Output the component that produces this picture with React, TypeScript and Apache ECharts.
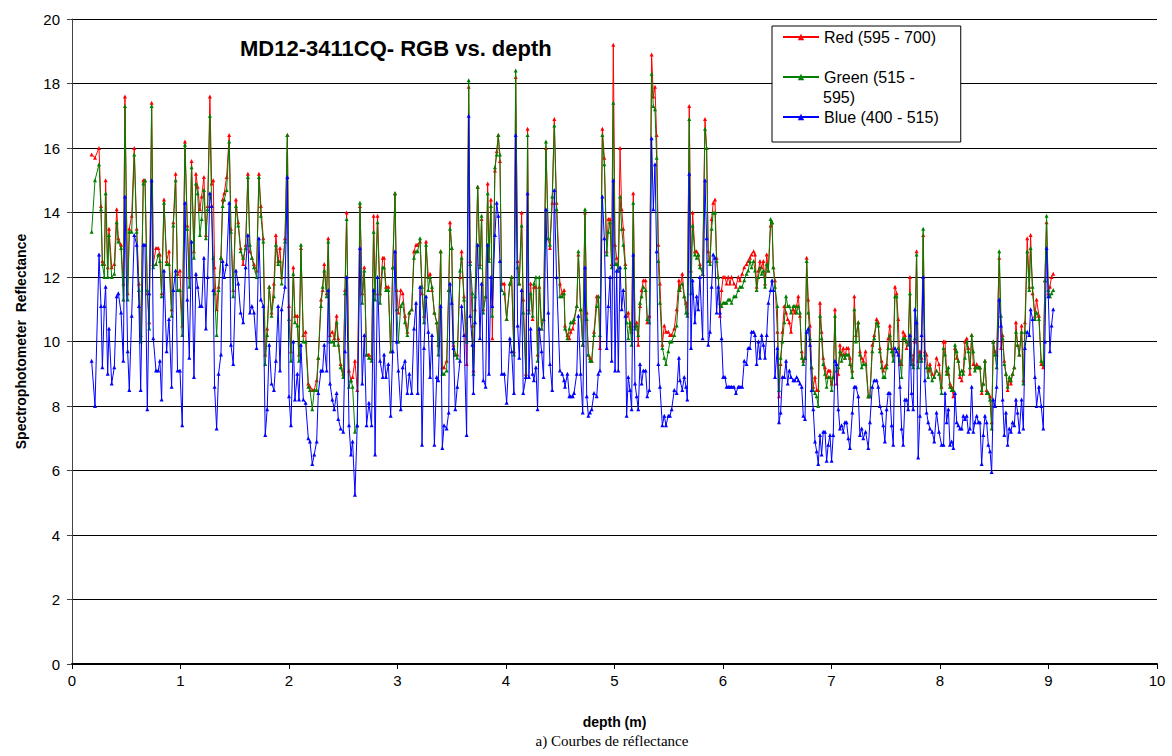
import React, { useEffect, useRef } from "react";
import * as echarts from "echarts";

// depth (m) of every sample
const depth = [
  0.181,0.212,0.249,0.267,0.28,0.298,0.31,0.329,0.341,0.366,0.39,0.412,0.427,0.452,0.473,0.488,0.513,0.528,0.55,0.574,0.596,0.617,0.633,0.657,0.673,0.694,0.712,0.734,0.749,0.774,0.795,0.81,0.826,0.848,0.872,0.894,0.918,0.934,0.955,0.973,0.995,1.016,
  1.041,1.063,1.081,1.102,1.124,1.142,1.158,1.179,1.195,1.216,1.234,1.25,1.271,1.287,1.302,1.314,1.333,1.351,1.373,1.388,1.403,1.425,1.449,1.465,1.486,1.511,1.532,1.554,1.578,1.6,1.621,1.64,1.658,1.677,1.701,1.723,1.741,1.763,1.781,1.799,1.818,1.839,1.861,1.879,1.9,
  1.917,1.932,1.963,1.985,2.0,2.018,2.04,2.055,2.077,2.092,2.11,2.132,2.153,2.178,2.193,2.215,2.233,2.255,2.27,2.295,2.31,2.325,2.347,2.362,2.378,2.399,2.417,2.439,2.454,2.476,2.5,2.516,2.531,2.553,2.571,2.586,2.608,2.629,2.654,2.675,2.694,2.715,2.737,2.761,2.78,
  2.793,2.816,2.839,2.864,2.876,2.894,2.916,2.937,2.956,2.977,2.993,3.008,3.03,3.048,3.069,3.091,3.109,3.131,3.152,3.171,3.186,3.208,3.226,3.244,3.263,3.284,3.3,3.318,3.34,3.361,3.376,3.398,3.413,3.429,3.453,3.472,3.484,3.5,3.515,3.533,3.551,3.576,3.591,3.613,3.637,3.656,
  3.67,3.69,3.70,3.714,3.739,3.76,3.775,3.791,3.812,3.831,3.843,3.861,3.874,3.898,3.914,3.929,3.944,3.96,3.984,4.006,4.036,4.052,4.073,4.089,4.107,4.122,4.144,4.159,4.184,4.199,4.211,4.227,4.245,4.257,4.276,4.291,4.307,4.328,4.346,4.368,4.39,4.405,4.426,4.445,4.466,4.497,4.518,
  4.535,4.544,4.566,4.584,4.596,4.615,4.627,4.652,4.667,4.688,4.707,4.728,4.744,4.759,4.774,4.79,4.811,4.836,4.851,4.866,4.888,4.906,4.928,4.943,4.959,4.974,4.989,5.005,5.02,5.035,5.051,5.066,5.081,5.1,5.112,5.127,5.143,5.158,5.173,5.189,5.204,5.219,5.235,5.25,5.266,5.287,5.302,5.321,5.342,5.358,
  5.373,5.388,5.404,5.419,5.441,5.459,5.474,5.496,5.511,5.527,5.551,5.573,5.594,5.603,5.625,5.643,5.659,5.671,5.689,5.705,5.72,5.741,5.757,5.772,5.787,5.812,5.834,5.849,5.864,5.88,5.895,5.91,5.926,5.941,5.956,5.972,5.987,6.002,6.018,6.033,6.048,6.064,6.079,6.101,6.119,6.141,6.156,6.177,6.196,6.217,6.232,6.248,6.263,6.282,
  6.295,6.31,6.326,6.341,6.356,6.372,6.387,6.403,6.418,6.439,6.452,6.464,6.479,6.501,6.516,6.531,6.547,6.565,6.581,6.596,6.611,6.627,6.648,6.663,6.679,6.694,6.709,6.725,6.74,6.756,6.771,6.786,6.802,6.817,6.832,6.848,6.863,6.878,6.894,6.909,6.924,6.94,6.955,6.97,6.986,7.001,7.016,7.032,7.047,7.063,7.078,7.093,7.109,7.124,7.139,
  7.155,7.17,7.192,7.21,7.225,7.247,7.262,7.278,7.293,7.314,7.339,7.354,7.376,7.394,7.416,7.431,7.446,7.462,7.477,7.492,7.508,7.523,7.538,7.554,7.569,7.585,7.6,7.615,7.631,7.646,7.661,7.677,7.692,7.707,7.723,7.738,7.753,7.769,7.784,7.799,7.815,7.83,7.845,7.861,7.876,7.891,7.907,7.928,7.947,7.968,7.99,8.014,8.033,
  8.046,8.061,8.077,8.092,8.107,8.123,8.138,8.154,8.169,8.184,8.2,8.215,8.23,8.246,8.261,8.276,8.292,8.307,8.322,8.338,8.353,8.368,8.384,8.399,8.414,8.43,8.445,8.461,8.476,8.491,8.507,8.522,8.546,8.562,8.577,8.593,8.608,8.623,8.639,8.654,8.669,8.685,8.7,8.715,8.731,8.752,8.768,8.783,8.804,8.823,8.835,8.853,8.875,8.89,8.912,8.933,8.952,8.967,8.982,8.998,9.013,9.028,9.044,
];

// Red (595 - 700)
const red = [
  15.8,15.7,16.0,14.2,12.5,12.4,15.0,12.3,13.5,12.3,12.4,14.1,13.2,13.0,11.8,17.6,11.5,13.5,13.9,16.0,13.5,11.8,10.2,15.0,15.0,11.5,10.6,17.4,12.4,12.9,12.9,12.7,11.5,14.4,12.5,12.8,11.0,13.7,15.2,12.1,12.2,10.5,
  16.2,13.6,12.0,15.6,12.8,15.2,14.8,14.1,14.5,15.1,13.3,14.2,17.6,14.9,15.0,12.3,11.0,11.7,12.6,14.4,14.6,15.1,16.4,13.5,11.6,14.4,13.7,12.9,12.4,13.0,15.2,12.8,12.6,12.4,12.2,15.2,14.2,13.2,9.6,10.4,11.7,10.9,11.8,13.3,12.5,
  12.9,12.0,13.2,16.4,11.1,9.7,12.3,10.8,10.8,9.6,12.9,10.2,10.3,8.7,8.6,8.5,8.5,8.8,9.5,11.3,11.6,12.4,11.5,13.2,10.2,10.3,10.1,10.8,10.1,9.3,9.0,11.6,14.0,9.1,8.8,8.9,9.4,8.5,14.2,11.5,12.3,9.6,9.6,9.5,13.9,
  11.5,13.9,11.5,12.6,12.6,11.7,11.7,9.7,12.3,14.6,11.6,10.9,11.6,11.5,10.8,10.3,10.9,11.0,12.8,13.0,13.0,13.1,11.5,10.8,13.1,12.0,12.1,11.6,10.9,10.6,9.9,12.8,9.2,9.2,9.4,11.6,13.7,12.9,9.9,9.6,9.6,12.0,12.8,11.4,9.3,17.9,
  12.5,10.5,9.1,11.0,14.8,12.4,13.8,11.0,11.4,14.9,12.6,14.4,10.1,15.3,15.9,16.4,15.6,11.8,11.8,10.7,11.8,12.0,9.7,18.2,12.5,11.8,14.0,11.3,9.0,16.6,11.0,11.8,10.7,11.7,11.7,9.6,11.7,10.4,10.7,16.0,13.2,12.9,14.3,16.9,14.3,11.8,11.5,
  11.6,10.5,10.2,10.1,10.3,10.4,10.6,11.1,12.7,11.0,9.9,14.0,10.9,9.6,9.5,9.4,10.3,11.4,11.4,9.8,16.6,15.7,12.8,13.8,13.8,12.4,19.2,13.0,12.6,12.2,16.0,14.1,13.5,12.4,10.8,10.9,10.5,10.3,14.6,10.5,10.6,9.9,11.1,11.6,11.9,11.9,10.6,10.8,18.9,17.6,
  17.9,16.4,13.0,11.8,9.9,10.5,10.3,10.3,10.2,10.2,10.4,11.0,11.9,11.6,12.1,11.4,11.2,10.9,17.3,12.2,14.0,12.8,12.8,12.7,12.4,12.1,16.9,16.0,12.8,12.5,13.8,14.3,14.4,12.6,12.0,10.8,11.6,12.0,12.0,11.8,12.0,11.8,12.0,11.8,11.7,12.0,11.9,12.1,12.3,12.4,12.5,12.6,12.7,12.8,
  12.7,11.7,12.2,12.5,12.3,12.5,11.8,12.7,12.2,13.6,13.7,12.3,11.9,10.3,8.3,9.3,10.3,11.1,10.9,10.7,10.6,10.3,11.0,10.9,11.1,11.4,10.8,9.7,9.4,9.5,12.6,11.3,10.5,9.2,8.6,8.9,8.5,8.5,11.2,10.3,9.5,9.2,8.9,9.1,9.1,8.7,8.9,11.0,8.7,9.0,9.9,9.6,9.8,9.5,9.8,
  9.8,9.5,9.1,11.4,10.2,10.6,9.7,9.5,9.4,9.7,8.3,8.3,9.9,10.2,10.7,10.6,9.8,9.4,9.1,9.2,9.3,10.1,10.5,9.8,9.6,11.7,11.5,10.7,9.3,9.3,10.3,10.2,9.8,10.0,12.0,9.6,9.3,10.0,12.8,9.4,9.7,9.5,13.3,9.7,9.6,9.1,9.3,9.0,8.9,9.5,9.3,8.6,10.0,
  10.0,9.1,9.0,8.7,8.6,8.3,9.8,9.5,9.4,8.9,8.8,9.1,10.0,10.1,9.8,9.0,10.2,9.3,9.2,9.3,9.2,9.2,8.4,8.7,9.4,8.5,8.4,8.3,7.5,10.0,9.7,9.6,12.6,9.8,10.2,9.4,9.0,8.5,8.8,8.7,9.0,9.2,10.6,9.9,9.6,10.5,8.8,10.6,13.2,11.7,13.3,11.5,10.8,11.3,10.8,9.3,9.2,11.9,13.7,11.5,11.7,12.0,12.1,
];

// Green (515 - 595)
const green = [
  13.4,15.0,15.5,14.1,12.4,12.0,14.6,12.0,13.3,12.0,12.1,13.7,13.1,12.9,11.3,17.3,11.3,13.4,13.4,15.8,13.4,11.6,10.0,14.9,15.0,11.6,10.4,17.3,12.3,12.4,12.7,12.5,11.4,14.3,12.4,12.4,10.8,13.6,15.0,11.6,11.6,10.2,
  16.1,13.5,11.7,15.4,12.6,14.9,14.6,13.3,13.8,14.7,13.2,14.1,17.0,14.2,12.6,11.5,10.2,11.6,12.6,14.2,14.4,14.7,16.2,13.4,11.4,14.2,13.6,12.8,12.6,12.9,15.1,13.0,12.6,12.3,12.0,15.1,13.9,13.1,9.3,10.2,11.7,10.8,11.4,13.0,12.4,
  12.5,11.8,13.1,16.4,10.7,9.4,12.1,10.6,10.5,9.4,13.0,10.0,10.0,8.6,8.5,7.9,8.5,8.5,9.5,11.1,11.7,12.2,11.4,13.1,10.0,10.0,9.9,10.6,9.9,9.2,8.9,11.5,13.8,8.6,8.8,8.6,7.2,7.4,14.3,11.2,12.2,9.6,9.5,9.4,13.4,
  11.3,13.7,11.2,12.3,12.3,11.6,11.6,9.7,12.3,14.6,11.0,10.0,11.1,11.2,10.6,10.2,10.9,11.0,12.6,12.8,12.8,13.2,11.7,10.6,13.0,11.6,12.0,11.7,10.9,10.6,9.6,12.8,9.0,9.0,9.1,11.6,13.5,12.9,10.0,9.6,9.5,12.2,12.6,11.3,10.0,18.1,
  12.4,11.5,9.0,11.4,14.8,12.3,13.9,10.9,11.4,14.6,12.5,14.2,10.8,15.4,15.8,16.4,15.8,11.6,11.5,10.7,11.8,12.0,9.6,18.4,12.3,11.8,13.6,10.9,8.9,16.4,10.9,11.5,10.8,11.8,12.0,9.4,12.0,10.4,10.7,16.2,13.2,13.0,14.5,16.7,14.1,11.4,11.4,
  11.5,10.4,10.1,10.4,10.6,10.6,10.7,11.1,12.8,11.0,9.9,14.1,10.7,9.6,9.4,9.4,10.2,11.1,11.4,10.2,16.4,15.5,12.7,13.4,13.7,12.3,17.4,12.4,12.4,12.2,14.5,13.5,13.0,12.3,10.6,10.1,10.6,9.9,14.3,10.4,10.5,10.2,11.2,11.4,11.7,11.6,10.7,10.6,18.3,17.3,
  17.2,15.7,12.5,11.2,9.8,9.5,9.3,9.7,10.0,10.0,10.2,10.5,11.6,11.7,11.8,11.4,10.9,10.8,16.9,11.5,13.6,12.7,12.6,12.7,12.3,12.1,16.6,16.0,12.5,12.4,13.5,14.0,14.0,12.5,12.0,11.2,11.1,11.2,11.2,11.2,11.3,11.3,11.2,11.4,11.4,11.6,11.7,11.7,11.9,12.1,12.2,12.5,12.3,12.5,
  12.2,11.6,12.0,12.3,12.1,12.2,11.7,12.4,12.2,13.8,13.7,12.3,11.7,11.1,8.5,9.5,10.0,10.6,11.4,11.1,11.1,10.9,11.1,11.1,10.9,11.1,10.9,9.5,9.3,9.5,12.5,10.9,10.1,9.2,8.5,8.4,8.3,8.0,10.8,10.1,9.3,9.0,8.6,8.9,8.9,8.5,8.9,10.8,9.1,9.2,9.7,9.4,9.6,9.5,9.6,
  9.6,9.3,8.9,11.0,10.0,10.6,9.6,9.2,9.3,9.3,8.3,8.3,9.7,10.1,10.6,10.5,9.7,9.2,8.9,8.9,9.2,9.8,10.2,9.7,9.4,11.4,11.4,9.8,9.4,8.9,10.1,10.1,10.0,9.9,11.5,9.3,9.2,10.1,12.7,9.2,9.6,9.4,13.5,9.6,9.2,8.9,9.2,8.8,8.9,9.1,9.0,8.4,9.8,
  9.6,9.0,9.2,8.6,8.5,8.5,9.9,9.7,9.4,9.0,9.1,9.0,9.5,10.0,9.7,9.2,10.2,9.7,9.1,9.2,9.2,9.2,8.5,8.7,9.4,8.4,8.4,8.2,7.3,10.0,9.6,9.2,12.8,10.8,10.1,9.3,9.0,8.6,8.9,8.8,9.0,9.2,10.3,9.9,9.6,10.3,8.7,10.3,12.8,11.6,12.9,11.7,10.7,10.9,10.7,9.4,9.3,11.9,13.9,11.6,11.4,11.5,11.6,
];

// Blue (400 - 515)
const blue = [
  9.4,8.0,12.7,11.1,9.2,11.1,11.7,9.0,10.4,8.7,9.2,11.4,11.5,10.9,9.4,14.5,9.7,8.5,10.8,13.3,13.0,11.1,8.5,13.0,13.0,7.9,11.5,15.0,10.1,9.1,9.1,9.4,8.2,12.2,9.7,10.7,8.6,11.6,12.2,9.1,9.1,7.4,
  14.3,11.3,9.5,13.1,8.9,12.1,11.7,11.1,11.1,12.6,10.4,12.0,14.6,14.2,11.6,8.6,7.3,9.0,9.6,12.5,12.0,12.4,14.3,9.9,9.3,12.2,11.8,10.9,10.6,12.3,13.3,10.9,11.1,10.9,9.8,13.2,11.3,11.1,7.1,7.9,9.9,8.7,8.5,9.4,11.1,
  9.1,11.0,11.7,15.1,8.3,7.4,10.0,8.2,9.0,8.2,9.9,8.2,8.1,7.0,6.9,6.2,6.5,6.9,8.4,9.1,9.1,9.9,9.1,11.6,8.7,8.2,7.9,8.4,7.6,7.3,7.2,9.7,12.0,7.4,6.5,6.9,5.25,7.4,12.9,8.7,10.2,7.4,8.1,7.4,11.6,
  6.5,12.0,9.4,8.9,9.6,8.9,9.3,7.7,9.7,12.8,10.0,9.1,7.9,9.2,9.4,8.4,9.0,8.4,10.4,11.2,8.4,11.7,6.8,9.8,11.4,10.3,8.9,10.2,6.8,8.9,8.8,11.1,6.7,7.4,7.3,7.8,11.8,11.2,9.8,7.9,8.6,9.4,11.1,10.2,7.1,17.0,
  10.8,9.9,8.4,10.6,13.0,10.1,11.8,8.8,8.6,13.0,9.0,12.0,11.1,13.3,14.3,13.9,12.5,9.0,9.0,8.1,10.1,9.7,8.4,16.4,10.5,9.5,11.6,8.4,8.9,14.6,8.9,10.4,9.0,8.8,9.2,7.9,10.4,9.7,8.9,14.1,10.9,9.3,8.5,14.7,12.0,9.1,9.0,
  8.8,8.6,9.0,8.3,8.3,8.3,8.4,9.0,10.8,9.0,7.8,12.3,8.3,7.7,7.8,7.9,8.4,8.3,9.0,9.1,14.5,13.2,9.8,11.1,12.0,9.4,15.0,9.1,12.2,9.1,12.3,11.0,11.6,10.8,7.7,8.9,8.5,7.9,12.7,8.7,8.3,7.9,9.3,8.7,9.1,9.1,8.3,8.5,16.3,14.1,
  15.5,12.8,9.3,8.6,7.4,7.7,7.4,7.7,7.7,7.9,8.5,8.4,9.5,8.8,8.5,8.9,8.6,8.2,15.2,9.8,11.9,10.6,11.4,11.0,12.0,10.1,15.0,13.2,9.9,10.3,11.7,12.7,12.6,10.9,11.7,10.9,10.1,8.9,8.9,8.6,8.6,8.6,8.6,8.6,8.4,8.6,8.6,8.6,9.4,9.3,9.8,9.8,10.3,10.3,
  10.2,9.3,10.0,9.5,10.2,9.9,9.5,10.2,11.2,11.6,11.9,11.6,8.9,9.8,7.5,7.8,8.9,8.9,9.4,8.7,9.1,8.9,8.8,8.8,8.9,8.8,8.7,8.6,7.7,7.6,10.3,10.4,9.9,8.5,7.9,6.9,6.6,6.2,7.1,6.5,7.2,7.2,6.3,6.8,7.1,6.3,7.1,9.4,9.3,7.9,7.3,7.4,7.2,7.5,7.5,
  7.0,6.7,7.8,8.6,8.6,8.3,7.1,7.3,7.0,7.2,6.7,7.5,8.6,8.8,8.8,8.6,8.0,7.8,7.4,6.9,7.9,8.4,8.4,7.4,6.8,9.8,9.7,9.6,8.6,7.3,6.8,8.2,8.2,7.9,10.2,8.4,7.9,11.0,10.6,6.4,7.7,10.2,12.0,8.8,7.8,7.5,7.3,7.2,6.9,7.8,7.2,6.8,6.8,
  8.4,7.5,7.9,6.8,6.9,6.7,8.4,7.5,7.4,7.3,7.3,7.7,7.6,7.7,7.2,7.3,8.6,7.2,7.5,7.7,7.5,7.5,6.2,7.1,7.7,7.5,6.8,6.6,5.95,8.2,8.0,8.6,11.3,10.5,8.2,7.1,7.8,6.8,7.3,7.2,7.5,7.4,8.2,7.8,7.2,8.2,7.3,9.8,10.3,10.2,11.0,10.7,8.9,8.0,8.6,8.0,7.3,10.0,12.9,11.4,9.7,10.5,11.0,
];

const seriesNames = ["Red (595 - 700)", "Green (515 - 595)", "Blue (400 - 515)"];
const seriesColors = ["#ff0000", "#008000", "#0000ff"];
const xRange = [0, 10, 1];
const yRange = [0, 20, 2];
const titleText = "MD12-3411CQ- RGB vs. depth";
const xName = "depth (m)";
const yName = "Spectrophotometer  Reflectance";
const caption = "a) Courbes de réflectance";

const FONT = "Arial, 'Liberation Sans', sans-serif";

export default function App() {
  const ref = useRef<HTMLDivElement>(null);
  useEffect(() => {
    document.body.style.margin = "0";
    if (!ref.current) return;
    const chart = echarts.init(ref.current, null, { renderer: "svg" });
    const values = [red, green, blue];
    const option: any = {
      animation: false,
      backgroundColor: "#fff",
      title: {
        text: titleText,
        left: 240,
        top: 37,
        padding: 0,
        textStyle: { fontFamily: FONT, fontSize: 22, fontWeight: "bold", color: "#000" },
      },
      legend: {
        orient: "vertical",
        left: 772,
        top: 26,
        padding: [2, 22, 16, 10],
        itemGap: 22,
        itemWidth: 36,
        itemHeight: 8,
        backgroundColor: "#fff",
        borderColor: "#000",
        borderWidth: 1,
        borderRadius: 0,
        data: seriesNames,
        formatter: (n: string) => (n === seriesNames[1] ? "Green (515 -" : n),
        textStyle: { fontFamily: FONT, fontSize: 16, color: "#000", lineHeight: 18 },
      },
      grid: { left: 72, right: 15, top: 19, bottom: 92, containLabel: false },
      xAxis: {
        type: "value",
        min: xRange[0],
        max: xRange[1],
        interval: xRange[2],
        name: xName,
        nameLocation: "middle",
        nameGap: 51,
        nameTextStyle: { fontFamily: FONT, fontSize: 14, fontWeight: "bold", color: "#000" },
        axisLine: { show: true, onZero: false, lineStyle: { color: "#000", width: 2 } },
        axisTick: { show: true, length: 5, lineStyle: { color: "#000" } },
        axisLabel: { fontFamily: FONT, fontSize: 15, color: "#000", margin: 9 },
        splitLine: { show: false },
      },
      yAxis: {
        type: "value",
        min: yRange[0],
        max: yRange[1],
        interval: yRange[2],
        name: yName,
        nameLocation: "middle",
        nameGap: 44,
        nameTextStyle: { fontFamily: FONT, fontSize: 14, fontWeight: "bold", color: "#000" },
        axisLine: { show: true, lineStyle: { color: "#444", width: 1 } },
        axisTick: { show: true, length: 5, lineStyle: { color: "#444" } },
        axisLabel: { fontFamily: FONT, fontSize: 15, color: "#000", margin: 12 },
        splitLine: { show: true, lineStyle: { color: "#000", width: 1 } },
      },
      series: seriesNames.map((name, k) => ({
        name,
        type: "line",
        data: depth.map((d, i) => [d, values[k][i]]),
        symbol: "triangle",
        symbolSize: 4,
        showAllSymbol: true,
        lineStyle: { color: seriesColors[k], width: 1 },
        itemStyle: { color: seriesColors[k] },
        z: 2 + k,
      })),
      graphic: [
        {
          type: "text",
          x: 823,
          y: 97,
          style: { text: "595)", font: `16px ${FONT}`, fill: "#000", textVerticalAlign: "middle" },
          z: 100,
        },
        {
          type: "text",
          x: 612,
          y: 741,
          style: {
            text: caption,
            font: "15px 'Liberation Serif', 'Times New Roman', serif",
            fill: "#000",
            textAlign: "center",
            textVerticalAlign: "middle",
          },
        },
      ],
    };
    chart.setOption(option);
    return () => chart.dispose();
  }, []);
  return <div ref={ref} style={{ width: 1172, height: 756 }} />;
}
